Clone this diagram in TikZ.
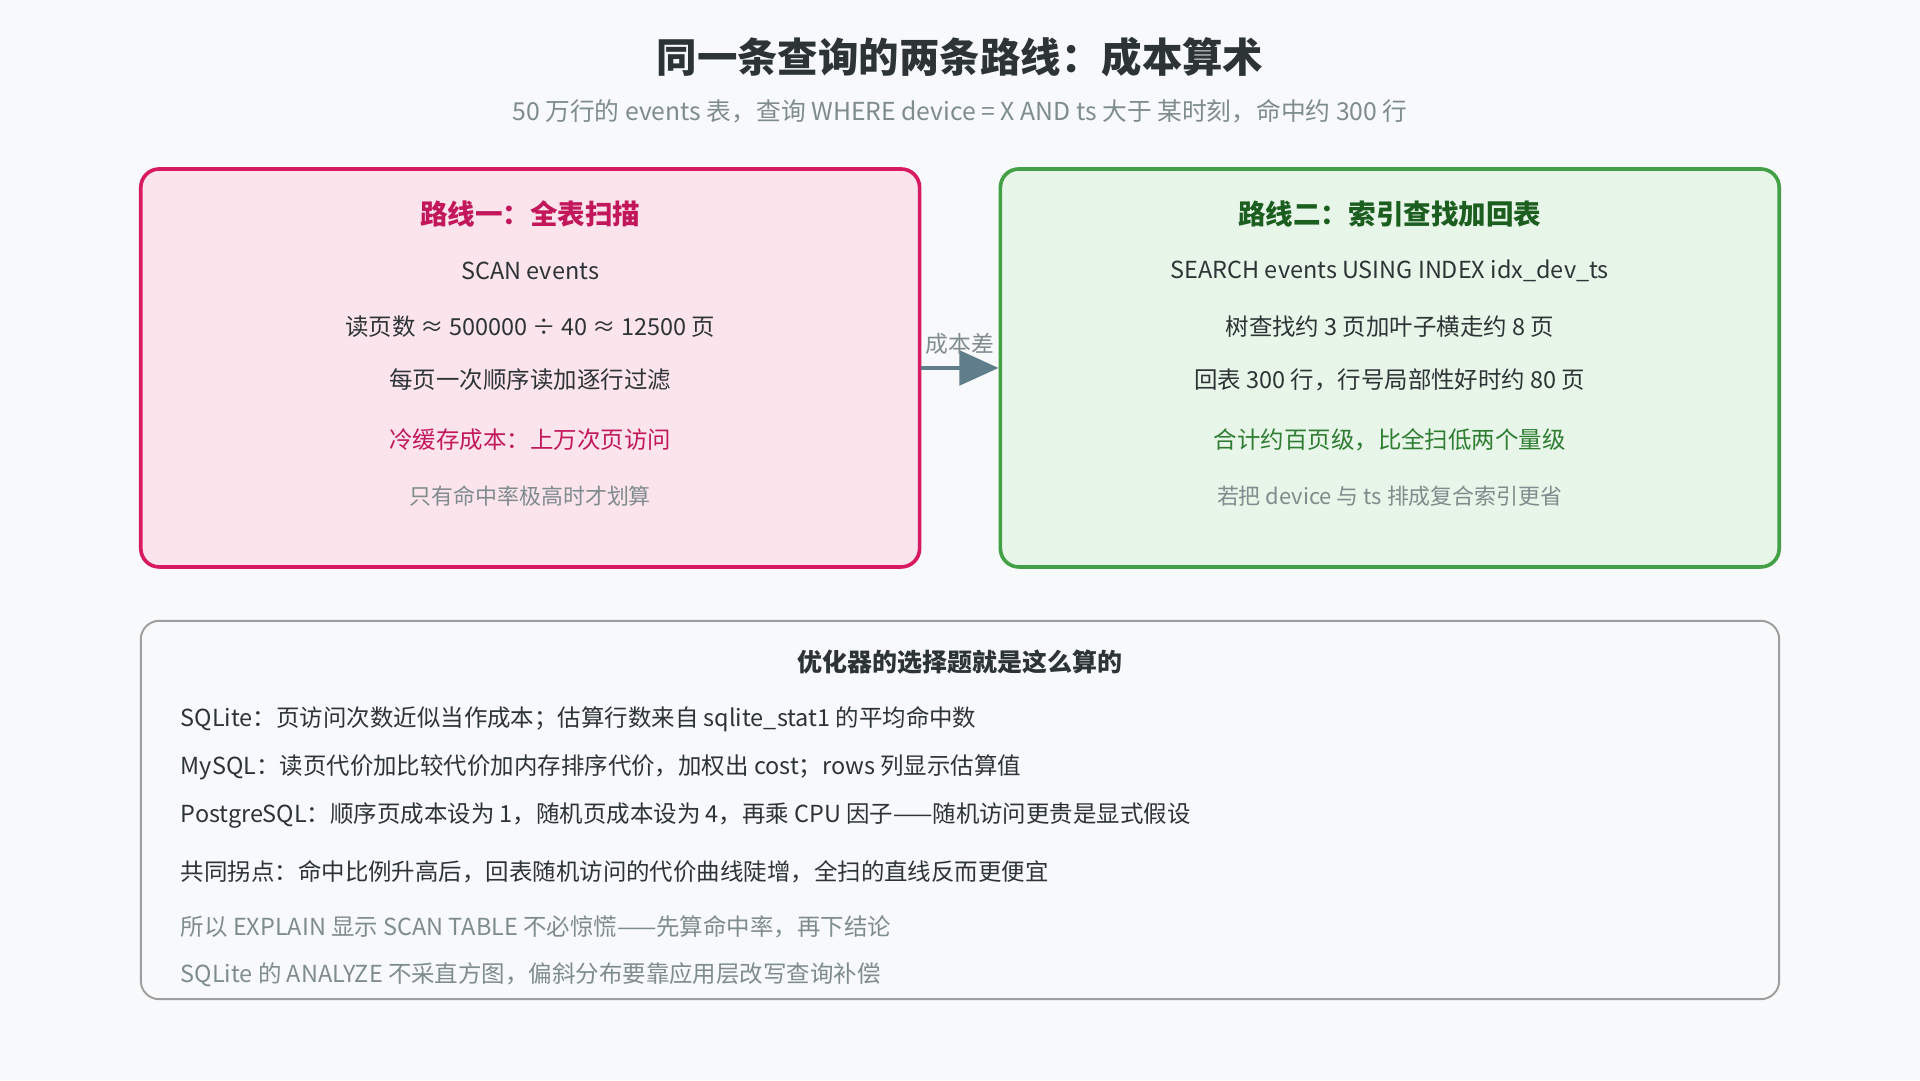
\documentclass[tikz,border=0pt]{standalone}
\usepackage{fontspec}
\setmainfont{Noto Sans CJK SC}
\usetikzlibrary{arrows.meta}
\definecolor{bgpage}{HTML}{F8F9FA}
\definecolor{titlec}{HTML}{2D3436}
\definecolor{mutedc}{HTML}{7F8C8D}
\definecolor{pinkfill}{HTML}{FCE4EC}
\definecolor{pinkline}{HTML}{D81B60}
\definecolor{pinktext}{HTML}{C2185B}
\definecolor{greenfill}{HTML}{E8F5E9}
\definecolor{greenline}{HTML}{43A047}
\definecolor{greentext}{HTML}{1B5E20}
\definecolor{greenmid}{HTML}{2E7D32}
\definecolor{arrowc}{HTML}{607D8B}
\definecolor{noteline}{HTML}{9E9E9E}
\tikzset{
  route/.style={draw, line width=0.85pt, rounded corners=1.5mm, inner sep=0pt},
  txt/.style={inner sep=0pt, text=titlec, font=\fontsize{5.45}{6}\selectfont},
  boxtitle/.style={inner sep=0pt, font=\fontsize{6.4}{7}\selectfont\bfseries},
  note/.style={inner sep=0pt, text=mutedc, font=\fontsize{5.1}{6}\selectfont},
  line/.style={txt, anchor=west},
}
\begin{document}
\begin{tikzpicture}[x=0.1mm,y=-0.1mm]
  \fill[bgpage] (0,0) rectangle (1568,882);
  \useasboundingbox (0,0) rectangle (1568,882);
  % heading
  \node[inner sep=0pt, text=titlec, font=\fontsize{9.4}{10}\selectfont\bfseries] (title) at (784,47) {同一条查询的两条路线：成本算术};
  \node[note, font=\fontsize{5.75}{6}\selectfont] (subtitle) at (784,91) {50 万行的 events 表，查询 WHERE device = X AND ts 大于 某时刻，命中约 300 行};
  % route one
  \node[route, draw=pinkline, fill=pinkfill, minimum width=63.6mm, minimum height=32.5mm] (scanbox) at (433,300.5) {};
  \node[boxtitle, text=pinktext] (scantitle) at (433,175) {路线一：全表扫描};
  \node[txt] (scan1) at (433,221) {SCAN events};
  \node[txt] (scan2) at (433,267) {读页数 ≈ 500000 ÷ 40 ≈ 12500 页};
  \node[txt] (scan3) at (433,310) {每页一次顺序读加逐行过滤};
  \node[txt, text=pinktext] (scan4) at (433,359) {冷缓存成本：上万次页访问};
  \node[note] (scan5) at (433,405) {只有命中率极高时才划算};
  % route two
  \node[route, draw=greenline, fill=greenfill, minimum width=63.6mm, minimum height=32.5mm] (idxbox) at (1135,300.5) {};
  \node[boxtitle, text=greentext] (idxtitle) at (1135,175) {路线二：索引查找加回表};
  \node[txt] (idx1) at (1135,221) {SEARCH events USING INDEX idx\_dev\_ts};
  \node[txt] (idx2) at (1135,267) {树查找约 3 页加叶子横走约 8 页};
  \node[txt] (idx3) at (1135,310) {回表 300 行，行号局部性好时约 80 页};
  \node[txt, text=greenmid] (idx4) at (1135,359) {合计约百页级，比全扫低两个量级};
  \node[note] (idx5) at (1135,405) {若把 device 与 ts 排成复合索引更省};
  % cost gap
  \draw[arrowc, line width=1.1pt, -{Triangle[length=3.2mm,width=2.8mm]}] (scanbox.east) -- (idxbox.west);
  \node[note, font=\fontsize{5.3}{6}\selectfont] (gap) at (784,281) {成本差};
  % optimizer notes
  \node[route, draw=noteline, fill=bgpage, line width=0.45pt, minimum width=133.8mm, minimum height=30.9mm] (optbox) at (784,661.5) {};
  \node[boxtitle, text=titlec, font=\fontsize{5.8}{6}\selectfont\bfseries] (opttitle) at (784,541) {优化器的选择题就是这么算的};
  \node[line] (opt1) at (147,587) {SQLite：页访问次数近似当作成本；估算行数来自 sqlite\_stat1 的平均命中数};
  \node[line] (opt2) at (147,627) {MySQL：读页代价加比较代价加内存排序代价，加权出 cost；rows 列显示估算值};
  \node[line] (opt3) at (147,666) {PostgreSQL：顺序页成本设为 1，随机页成本设为 4，再乘 CPU 因子——随机访问更贵是显式假设};
  \node[line] (opt4) at (147,712) {共同拐点：命中比例升高后，回表随机访问的代价曲线陡增，全扫的直线反而更便宜};
  \node[line, text=mutedc] (opt5) at (147,757) {所以 EXPLAIN 显示 SCAN TABLE 不必惊慌——先算命中率，再下结论};
  \node[line, text=mutedc] (opt6) at (147,796) {SQLite 的 ANALYZE 不采直方图，偏斜分布要靠应用层改写查询补偿};
\end{tikzpicture}
\end{document}
